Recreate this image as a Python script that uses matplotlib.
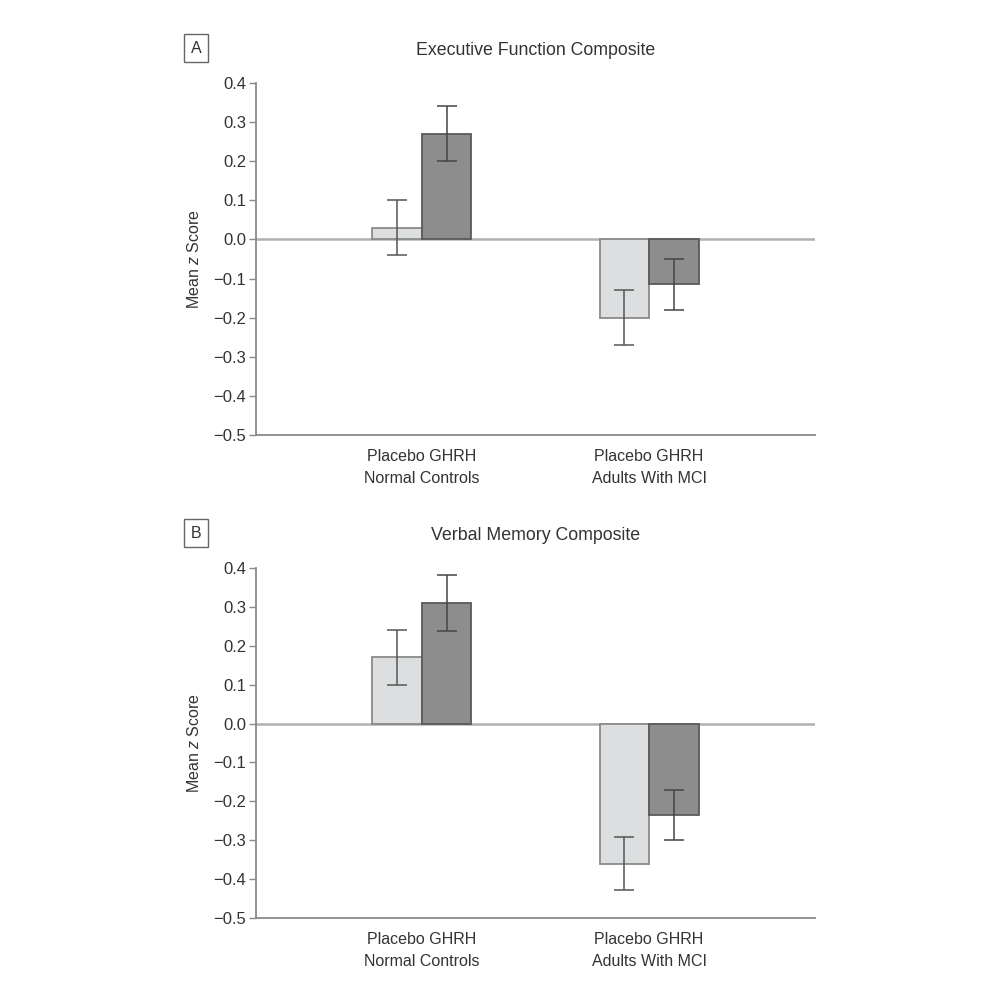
import numpy as np
import matplotlib.pyplot as plt
from matplotlib import rcParams

rcParams.update({'font.family': ['Liberation Sans', 'DejaVu Sans'],
                 'mathtext.fontset': 'custom',
                 'mathtext.it': 'Liberation Sans:italic',
                 'font.size': 12})

# Groups and series
GROUPS = ['Placebo GHRH\nNormal Controls', 'Placebo GHRH\nAdults With MCI']
Y_TICKS = [0.4, 0.3, 0.2, 0.1, 0.0, -0.1, -0.2, -0.3, -0.4, -0.5]

# Panel A: Executive Function Composite
exec_placebo = [0.03, -0.20]
exec_placebo_err = [0.07, 0.07]
exec_ghrh = [0.27, -0.115]
exec_ghrh_err = [0.07, 0.065]

# Panel B: Verbal Memory Composite
verb_placebo = [0.17, -0.36]
verb_placebo_err = [0.07, 0.068]
verb_ghrh = [0.31, -0.235]
verb_ghrh_err = [0.073, 0.065]

PLACEBO_COLOR = '#dcdedf'
GHRH_COLOR = '#8d8d8d'
AXIS_COLOR = '#8a8a8a'
TEXT_COLOR = '#333333'
BAR_W = 0.218
FS = 11.5

fig = plt.figure(figsize=(10, 10), dpi=100)


def draw_panel(rect, title, letter, placebo, placebo_err, ghrh, ghrh_err):
    ax = fig.add_axes(rect)
    x = np.arange(len(GROUPS))
    ax.bar(x - BAR_W / 2, placebo, width=BAR_W, color=PLACEBO_COLOR,
           edgecolor='#8a8a8a', linewidth=1.3, zorder=2)
    ax.bar(x + BAR_W / 2, ghrh, width=BAR_W, color=GHRH_COLOR,
           edgecolor='#5a5a5a', linewidth=1.3, zorder=2)
    ax.errorbar(x - BAR_W / 2, placebo, yerr=placebo_err, fmt='none',
                ecolor='#555555', elinewidth=1.1, capsize=7, capthick=1.1, zorder=3)
    ax.errorbar(x + BAR_W / 2, ghrh, yerr=ghrh_err, fmt='none',
                ecolor='#444444', elinewidth=1.1, capsize=7, capthick=1.1, zorder=3)
    ax.axhline(0, color='#b0b0b0', linewidth=1.8, zorder=1)

    ax.set_xlim(-0.73, 1.73)
    ax.set_ylim(-0.5, 0.4)
    ax.set_yticks(Y_TICKS)
    ax.set_yticklabels([f'{v:.1f}'.replace('-', '\u2212') for v in Y_TICKS],
                       color=TEXT_COLOR, fontsize=FS + 0.5)
    ax.set_xticks(x)
    ax.set_xticklabels(GROUPS, color=TEXT_COLOR, fontsize=FS, linespacing=1.6)
    ax.tick_params(axis='x', length=0, pad=10)
    ax.tick_params(axis='y', length=5, width=1, color=AXIS_COLOR, pad=2)

    for side in ['top', 'right']:
        ax.spines[side].set_visible(False)
    for side in ['left', 'bottom']:
        ax.spines[side].set_color(AXIS_COLOR)
        ax.spines[side].set_linewidth(1.3)

    ax.set_ylabel('Mean $\\mathit{z}$ Score', color=TEXT_COLOR, fontsize=FS, labelpad=8)
    ax.set_title(title, color=TEXT_COLOR, fontsize=12.8, pad=20)
    ax.text(-0.107, 1.099, letter, transform=ax.transAxes, fontsize=FS,
            color=TEXT_COLOR, ha='center', va='center',
            bbox=dict(boxstyle='square,pad=0.4', facecolor='white',
                      edgecolor='#666666', linewidth=1))
    return ax


draw_panel([0.256, 0.565, 0.559, 0.352], 'Executive Function Composite', 'A',
           exec_placebo, exec_placebo_err, exec_ghrh, exec_ghrh_err)
draw_panel([0.256, 0.082, 0.559, 0.350], 'Verbal Memory Composite', 'B',
           verb_placebo, verb_placebo_err, verb_ghrh, verb_ghrh_err)

plt.savefig('out.png', dpi=100)
plt.close()
